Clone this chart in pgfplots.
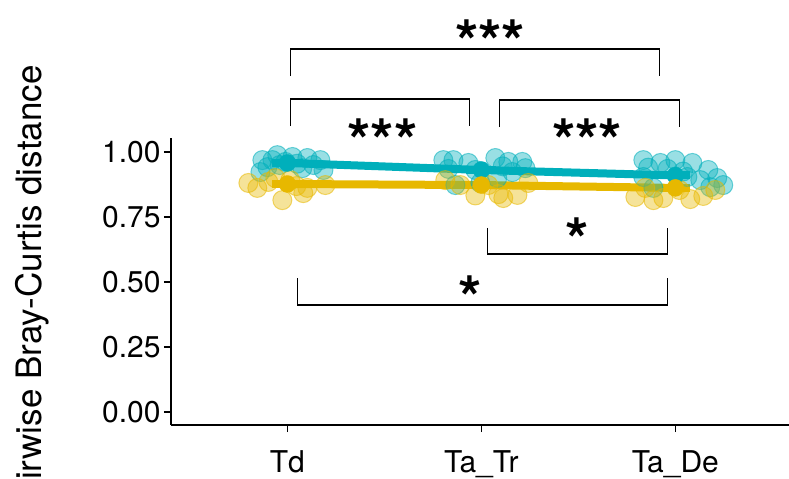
\documentclass[border=0pt]{standalone}
\usepackage{fontspec}
\setmainfont{TeX Gyre Heros}
\usepackage{pgfplots}
\usepackage{pgfplotstable}
\pgfplotsset{compat=1.18}

\definecolor{cteal}{HTML}{00AFBB}
\definecolor{cgold}{HTML}{E7B800}

% jittered pairwise distances, group 1
\pgfplotstableread{
x y
0.871 0.969
0.948 0.988
0.897 0.942
1.026 0.981
1.103 0.977
1.170 0.969
1.186 0.931
1.077 0.938
0.990 0.962
0.861 0.923
1.134 0.950
0.923 0.969
1.050 0.955
0.960 0.950
1.804 0.969
1.856 0.969
1.933 0.958
1.969 0.931
2.072 0.977
2.139 0.962
2.211 0.962
2.160 0.923
2.227 0.938
1.866 0.873
1.995 0.881
2.082 0.900
1.830 0.935
2.110 0.945
2.835 0.969
2.923 0.958
3.000 0.969
3.088 0.958
3.170 0.931
3.216 0.900
3.247 0.873
3.180 0.865
3.129 0.892
3.062 0.904
2.835 0.904
2.887 0.862
2.960 0.935
3.040 0.925
2.860 0.940
}\tealpts

% jittered pairwise distances, group 2
\pgfplotstableread{
x y
0.799 0.881
0.845 0.862
0.902 0.885
0.974 0.815
1.082 0.842
1.196 0.873
1.103 0.862
1.015 0.892
0.938 0.900
1.046 0.869
1.969 0.833
2.088 0.838
2.186 0.835
2.113 0.823
1.814 0.892
1.892 0.873
2.242 0.881
2.036 0.873
2.794 0.827
2.887 0.815
2.938 0.823
3.077 0.819
3.144 0.831
2.845 0.862
3.021 0.854
3.206 0.854
}\goldpts

\newcommand{\stars}[1]{\fontsize{60bp}{60bp}\selectfont\bfseries #1}

\begin{document}
\begin{tikzpicture}
\useasboundingbox (-171bp,-54bp) rectangle (618bp,425bp);
\begin{axis}[
  scale only axis,
  width=618bp, height=287bp,
  xmin=0.4, xmax=3.586,
  ymin=-0.05, ymax=1.054,
  clip=false,
  axis x line*=bottom, axis y line*=left,
  axis line style={-, line width=1.5bp, black},
  tick align=outside,
  major tick length=7bp,
  tick style={line width=1.5bp, black},
  xtick={1,2,3}, xticklabels={Td,Ta\_Tr,Ta\_De},
  ytick={0,0.25,0.5,0.75,1},
  yticklabels={0.00,0.25,0.50,0.75,1.00},
  x tick label style={font=\fontsize{30bp}{30bp}\selectfont, yshift=-15bp},
  y tick label style={font=\fontsize{30bp}{30bp}\selectfont},
]
\addplot[only marks, mark=*, mark size=9.5bp,
  mark options={fill=cteal, fill opacity=0.4, draw=cteal, draw opacity=0.55, line width=1bp}]
  table {\tealpts};
\addplot[only marks, mark=*, mark size=9.5bp,
  mark options={fill=cgold, fill opacity=0.4, draw=cgold, draw opacity=0.55, line width=1bp}]
  table {\goldpts};

% group means
\addplot[cteal, line width=8bp, mark=none,
  error bars/.cd, x dir=both, x fixed=0.078, error mark=none,
  error bar style={line width=8bp}]
  coordinates {(1,0.958) (2,0.931) (3,0.910)};
\addplot[cgold, line width=8bp, mark=none,
  error bars/.cd, x dir=both, x fixed=0.078, error mark=none,
  error bar style={line width=8bp}]
  coordinates {(1,0.877) (2,0.873) (3,0.862)};
\addplot[only marks, mark=*, mark size=8.5bp, cteal] coordinates {(1,0.958) (2,0.931) (3,0.910)};
\addplot[only marks, mark=*, mark size=8.5bp, cgold] coordinates {(1,0.877) (2,0.873) (3,0.862)};

% significance brackets
\draw[line width=1.3bp] (axis cs:1.015,1.292) |- (axis cs:2.918,1.396) -- (axis cs:2.918,1.292);
\draw[line width=1.3bp] (axis cs:1.015,1.100) |- (axis cs:1.938,1.204) -- (axis cs:1.938,1.100);
\draw[line width=1.3bp] (axis cs:2.093,1.096) |- (axis cs:3.020,1.200) -- (axis cs:3.020,1.096);
\draw[line width=1.3bp] (axis cs:2.031,0.708) |- (axis cs:2.959,0.608) -- (axis cs:2.959,0.708);
\draw[line width=1.3bp] (axis cs:1.052,0.515) |- (axis cs:2.959,0.412) -- (axis cs:2.959,0.515);

\node[anchor=base, inner sep=0pt] at (axis cs:2.046,1.342) {\stars{***}};
\node[anchor=base, inner sep=0pt] at (axis cs:1.490,0.958) {\stars{***}};
\node[anchor=base, inner sep=0pt] at (axis cs:2.546,0.958) {\stars{***}};
\node[anchor=base, inner sep=0pt] at (axis cs:2.495,0.579) {\stars{*}};
\node[anchor=base, inner sep=0pt] at (axis cs:1.943,0.354) {\stars{*}};
\end{axis}
\node[rotate=90, anchor=base, font=\fontsize{35bp}{35bp}\selectfont, inner sep=0pt]
  at (-129bp,131.5bp) {Pairwise Bray-Curtis distance};
\end{tikzpicture}
\end{document}
